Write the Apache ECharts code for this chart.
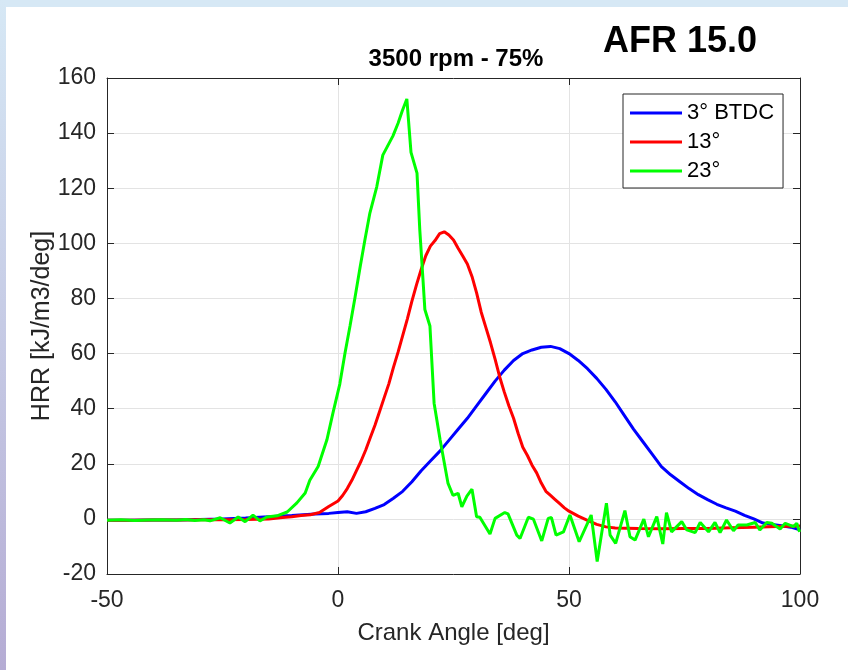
<!DOCTYPE html>
<html>
<head>
<meta charset="utf-8">
<script src="https://cdn.jsdelivr.net/npm/echarts@6/dist/echarts.min.js"></script>
<style>
html,body{margin:0;padding:0;background:#fff;}
#chart{width:848px;height:670px;}
</style>
</head>
<body>
<div id="chart"></div>
<script>
// ---- data ----
const seriesNames = ['3° BTDC', '13°', '23°'];
const xTicks = [-50, 0, 50, 100];
const yTicks = [-20, 0, 20, 40, 60, 80, 100, 120, 140, 160];

const blueAngle = [-50,-45,-40,-35,-30,-25,-20,-15,-10,-5,-2,0,2,4,6,8,10,12,14,16,18,20,22,24,26,28,30,32,34,36,38,40,42,44,46,48,50,52,54,56,58,60,62,64,66,68,70,72,74,76,78,80,82,84,86,88,90,92,94,96,98,100];
const blueHRR = [-0.5,-0.5,-0.4,-0.4,-0.2,0,0.3,0.8,1.2,1.8,2.0,2.3,2.6,2.0,2.6,3.8,5.2,7.5,10,13.5,17.5,21,24.5,28.5,32.5,36.5,41,45.5,50,54,57.5,60,61.3,62.3,62.6,61.8,60,57.5,54.5,51,47,42.5,37.5,32.5,28,23.5,19,16,13.5,11,8.8,7,5.3,4,2.8,1.3,0,-1.5,-2,-2.5,-3,-4];

const redAngle = [-50,-45,-40,-35,-30,-25,-20,-15,-12,-10,-8,-6,-4,-2,0,1,2,3,4,5,6,7,8,9,10,11,12,13,14,15,16,17,18,19,20,21,22,23,24,25,26,27,28,29,30,31,32,33,34,35,36,37,38,39,40,41,42,43,44,45,46,47,48,49,50,52,54,56,58,60,65,70,75,80,85,90,95,100];
const redHRR = [-0.5,-0.5,-0.4,-0.4,-0.3,-0.3,-0.2,0,0.5,0.8,1.2,1.5,2.3,4.5,6.5,8.5,11,14,17.5,21,25,29.5,34,39,44,49,55,60.5,66.5,72.5,79,85,90.5,95.5,99,101,103.5,104.2,103,101.2,98.2,95.4,92.5,88,82,75,69.5,64,58,51.5,46,41,36.5,31,26,23,19.5,16.7,13,10,8.5,7,5.5,4,2.8,1,-0.5,-2,-2.9,-3.3,-3.5,-3.6,-3.5,-3.5,-3.2,-3,-2.8,-2.6];

const greenAngle = [-50,-47,-44,-41,-38,-35,-33,-31,-29,-27.7,-25.5,-23.4,-21.6,-20.1,-18.4,-16.9,-15.4,-13.2,-11,-8.9,-7.1,-6.1,-4.3,-2.4,-1.1,0.4,1.5,2.6,3.7,4.8,5.8,6.9,8.4,9.7,11.9,13,13.9,14.9,15.8,17.1,17.7,18.4,18.8,19.9,20.8,22.1,23.8,24.9,26,26.8,27.9,29,30,30.7,32.9,34,36.1,36.8,38.7,39.4,41.2,42.3,44.1,45.5,46.2,47.2,48.8,50.2,52.2,54.8,56.1,58.1,58.9,60.1,62.1,63.2,64.3,66.2,67.2,69,70.3,71.1,72.2,74.4,75.5,77.3,78.4,80.2,81.6,82.7,84.1,85.6,86.6,88.5,90.3,91.3,92.8,93.9,95.7,96.8,98.6,99.3,99.9];
const greenHRR = [-0.5,-0.3,-0.6,-0.4,-0.3,-0.5,-0.2,-0.6,-0.3,-0.7,0.4,-1.5,0.7,-1,1.4,-0.7,0.7,1.1,2.5,5.8,9.4,14,19,28.7,38.4,49,60,70,80.5,91.5,101,111,120.6,132,139,143.6,148,152.4,133,125.5,105,86.7,76,70,42,28.7,13,8.5,9.3,4.4,8.3,10.8,0.8,0.6,-5.5,0.2,2.3,1.8,-5.9,-7.1,0.6,-0.1,-8,0.2,0.5,-5.9,-4.7,1.4,-8.3,1.4,-15.5,5.7,-5.9,-8.9,3,-6.5,-7.7,-0.1,-6.5,0.8,-9.1,2.3,-4.7,-1,-4,-5,-1.3,-4.7,-1.3,-5,-0.4,-4.3,-2.2,-2.2,-1.3,-4,-1.3,-1.6,-3.7,-1.6,-2.8,-1.6,-4.7];

// ---- build chart ----
function pairs(xs, ys) { return xs.map((x, i) => [x, ys[i]]); }
const FONT = '"Liberation Sans", Arial, Helvetica, sans-serif';
const AX = '#262626';
const xMin = xTicks[0], xMax = xTicks[xTicks.length - 1], xInt = xTicks[1] - xTicks[0];
const yMin = yTicks[0], yMax = yTicks[yTicks.length - 1], yInt = yTicks[1] - yTicks[0];

const chart = echarts.init(document.getElementById('chart'), null, {renderer: 'canvas'});

const baseX = {type: 'value', min: xMin, max: xMax, interval: xInt};
const baseY = {type: 'value', min: yMin, max: yMax, interval: yInt};

chart.setOption({
  animation: false,
  backgroundColor: '#ffffff',
  textStyle: {fontFamily: FONT},
  graphic: [
    {type: 'rect', left: 0, top: 0, z: 100, shape: {width: 848, height: 7}, style: {fill: '#d6e8f5'}},
    {type: 'rect', left: 0, top: 0, z: 100, shape: {width: 6, height: 670},
      style: {fill: new echarts.graphic.LinearGradient(0, 0, 0, 1, [
        {offset: 0, color: '#d6e8f5'}, {offset: 1, color: '#b5acd4'}])}}
  ],
  title: [
    {text: '3500 rpm - 75%', left: 451, top: 42, textAlign: 'center',
      textStyle: {fontFamily: FONT, fontSize: 24, fontWeight: 'bold', color: '#000'}},
    {text: 'AFR 15.0', left: 675, top: 19, textAlign: 'center',
      textStyle: {fontFamily: FONT, fontSize: 36, fontWeight: 'bold', color: '#000'}}
  ],
  grid: {left: 107, right: 48, top: 78, bottom: 96, containLabel: false},
  legend: {
    data: seriesNames,
    orient: 'vertical',
    left: 623, top: 94,
    width: 160,
    padding: [8, 9, 6, 7],
    itemGap: 7,
    itemWidth: 52,
    itemHeight: 3,
    icon: 'rect',
    backgroundColor: '#fff',
    borderColor: '#262626',
    borderWidth: 1,
    textStyle: {fontFamily: FONT, fontSize: 22, color: '#000', lineHeight: 22}
  },
  xAxis: [
    Object.assign({}, baseX, {
      position: 'bottom',
      name: 'Crank Angle [deg]', nameLocation: 'middle', nameGap: 47,
      nameMoveOverlap: false,
      nameTextStyle: {fontFamily: FONT, fontSize: 24, color: AX},
      axisLine: {show: true, onZero: false, lineStyle: {color: AX, width: 1}},
      axisTick: {show: true, inside: true, length: 7, lineStyle: {color: AX}},
      axisLabel: {fontFamily: FONT, fontSize: 23, color: AX, margin: 15},
      splitLine: {show: true, lineStyle: {color: '#e3e3e3', width: 1}}
    }),
    Object.assign({}, baseX, {
      position: 'top',
      axisLine: {show: true, onZero: false, lineStyle: {color: AX, width: 1}},
      axisTick: {show: true, inside: true, length: 7, lineStyle: {color: AX}},
      axisLabel: {show: false},
      splitLine: {show: false}
    })
  ],
  yAxis: [
    Object.assign({}, baseY, {
      position: 'left',
      name: 'HRR [kJ/m3/deg]', nameLocation: 'middle', nameGap: 52,
      nameMoveOverlap: false,
      nameTextStyle: {fontFamily: FONT, fontSize: 25, color: AX},
      axisLine: {show: true, onZero: false, lineStyle: {color: AX, width: 1}},
      axisTick: {show: true, inside: true, length: 7, lineStyle: {color: AX}},
      axisLabel: {fontFamily: FONT, fontSize: 23, color: AX, margin: 11},
      splitLine: {show: true, lineStyle: {color: '#e3e3e3', width: 1}}
    }),
    Object.assign({}, baseY, {
      position: 'right',
      axisLine: {show: true, onZero: false, lineStyle: {color: AX, width: 1}},
      axisTick: {show: true, inside: true, length: 7, lineStyle: {color: AX}},
      axisLabel: {show: false},
      splitLine: {show: false}
    })
  ],
  series: [
    {name: seriesNames[0], type: 'line', data: pairs(blueAngle, blueHRR), showSymbol: false,
      color: '#0000ff', lineStyle: {color: '#0000ff', width: 3}, z: 2},
    {name: seriesNames[1], type: 'line', data: pairs(redAngle, redHRR), showSymbol: false,
      color: '#ff0000', lineStyle: {color: '#ff0000', width: 3}, z: 3},
    {name: seriesNames[2], type: 'line', data: pairs(greenAngle, greenHRR), showSymbol: false,
      color: '#00ff00', lineStyle: {color: '#00ff00', width: 3}, z: 4}
  ]
});
</script>
</body>
</html>
